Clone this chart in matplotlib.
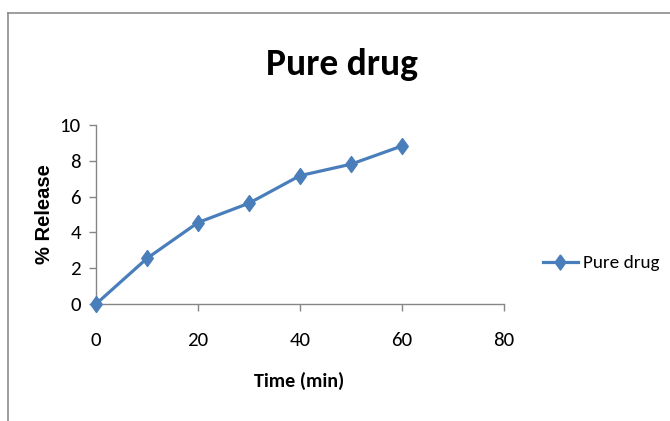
import matplotlib as mpl
import matplotlib.pyplot as plt
from matplotlib.lines import Line2D

# data
time_min = [0, 10, 20, 30, 40, 50, 60]
release_pct = [0, 2.55, 4.55, 5.63, 7.17, 7.81, 8.83]
series_name = "Pure drug"

# Carlito stands in for Calibri
mpl.rcParams['font.family'] = ["Carlito", "DejaVu Sans"]

line_col = "#4a7ebb"
axis_col = "#868686"
W, H = 670, 421

# slightly narrow diamond, like the squeezed Excel marker
diamond = [(0, 1), (0.72, 0), (0, -1), (-0.72, 0), (0, 1)]

fig = plt.figure(figsize=(W / 100, H / 100), dpi=100)
ax = fig.add_axes([96 / W, 1 - 304 / H, 408 / W, 179 / H])

ax.plot(time_min, release_pct, color=line_col, linewidth=2.3,
        marker=diamond, markersize=11.5, markeredgecolor=line_col, label=series_name,
        clip_on=False, zorder=3)

# axes styling, Excel like
ax.set_xlim(0, 80)
ax.set_ylim(0, 10)
ax.set_xticks(range(0, 81, 20))
ax.set_yticks(range(0, 11, 2))
for side in ["top", "right"]:
    ax.spines[side].set_visible(False)
for side in ["left", "bottom"]:
    ax.spines[side].set_color(axis_col)
    ax.spines[side].set_linewidth(1.0)
ax.tick_params(axis="both", colors=axis_col, labelcolor="black", length=5,
               width=1.0, labelsize=15, direction="out")
ax.tick_params(axis="x", pad=15)
ax.tick_params(axis="y", pad=6)

# titles and labels
fig.text(342 / W, 1 - 75 / H, "Pure drug", ha="center", va="baseline",
         fontsize=27, fontweight="bold")
ax.set_xlabel("Time (min)", fontsize=14.5, fontweight="bold", va="center")
ax.xaxis.set_label_coords((299 - 96) / 408, (304 - 381) / 179)
ax.set_ylabel("% Release", fontsize=14.5, fontweight="bold", va="center",
              family=["Liberation Sans", "DejaVu Sans"])
ax.yaxis.set_label_coords((45 - 96) / 408, 0.5)

# legend on the right
leg = fig.legend(loc="center left", bbox_to_anchor=(543 / W, 1 - 263 / H),
                 frameon=False, fontsize=13.8, handlelength=1.8, borderpad=0,
                 borderaxespad=0, handletextpad=0.3, markerscale=0.95)

# chart border (top and left edge)
fig.add_artist(Line2D([7.5 / W, 7.5 / W], [0, 1 - 13 / H], transform=fig.transFigure,
                      color="#8c8c8c", linewidth=1.2))
fig.add_artist(Line2D([7.5 / W, 1], [1 - 13 / H, 1 - 13 / H], transform=fig.transFigure,
                      color="#8c8c8c", linewidth=1.2))

plt.savefig("out.png", dpi=100)
plt.close("all")
